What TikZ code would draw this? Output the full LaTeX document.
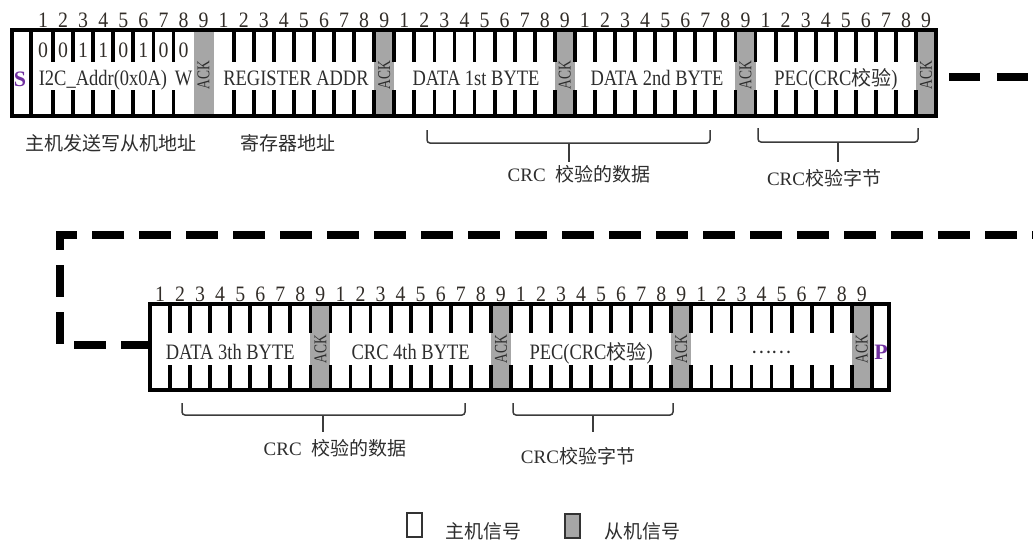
\documentclass[tikz,border=0pt]{standalone}
\usepackage{fontspec}
\setmainfont{Liberation Serif}
\newfontfamily\cjk{Noto Sans CJK SC}
\newfontfamily\ackfont[FakeStretch=0.75]{Liberation Serif}
\newfontfamily\condfont[FakeStretch=0.84]{Liberation Serif}
\newfontfamily\numfont[FakeStretch=0.9]{Liberation Serif}
\definecolor{ackgray}{RGB}{166,166,166}
\definecolor{sigcol}{RGB}{112,48,160}
\definecolor{numcol}{RGB}{50,45,40}
\definecolor{txtcol}{RGB}{45,45,45}
\definecolor{bracecol}{RGB}{60,60,60}
\begin{document}
\begin{tikzpicture}[x=1pt,y=-1pt,
  frame/.style={line width=4pt},
  tick/.style={line width=3.8pt},
  numlbl/.style={anchor=base, inner sep=0pt, font=\numfont\fontsize{22}{22}\selectfont, text=numcol},
  fieldlbl/.style={anchor=base, inner sep=0pt, font=\condfont\fontsize{22}{22}\selectfont, text=txtcol},
  acklbl/.style={rotate=90, inner sep=0pt, font=\ackfont\fontsize{18}{18}\selectfont, text=txtcol},
  siglbl/.style={anchor=base, inner sep=0pt, font=\bfseries\fontsize{22}{22}\selectfont, text=sigcol},
  cjklbl/.style={inner sep=0pt, font=\cjk\fontsize{19}{19}\selectfont, text=txtcol},
  brace/.style={line width=1.5pt, draw=bracecol, rounded corners=3pt},
  stem/.style={line width=2pt, draw=bracecol},
  dashline/.style={line width=8pt, dash pattern=on 31pt off 17pt},
  dashlineb/.style={line width=8pt, dash pattern=on 32pt off 15pt},
  legbox/.style={line width=1.3pt, draw=black!80},
]
\useasboundingbox (0,0) rectangle (1033,544);
\clip (0,0) rectangle (1033,544);

% ================= Row 1 =================
\def\xa{33}
\def\wa{20.07}
\foreach \i in {8,17,26,35,44}
  \fill[ackgray] ({\xa+\i*\wa},28) rectangle ({\xa+(\i+1)*\wa},118);
\foreach \j in {1,...,44}{
  \ifnum\j=8 \else\ifnum\j=9 \else
    \draw[tick] ({\xa+\j*\wa},28) -- ({\xa+\j*\wa},62);
    \draw[tick] ({\xa+\j*\wa},90) -- ({\xa+\j*\wa},118);
  \fi\fi
}
\draw[frame] (12,30) rectangle (936,116);
\draw[frame] (31,28) -- (31,118);
\foreach \i in {0,...,44}{
  \pgfmathtruncatemacro\n{mod(\i,9)+1}
  \node[numlbl] (na\i) at ({\xa+(\i+0.5)*\wa},27) {\n};
}
\foreach \v [count=\c from 0] in {0,0,1,1,0,1,0,0}
  \node[numlbl] (va\c) at ({\xa+(\c+0.5)*\wa},57) {\v};
\node[siglbl] (S) at (20,86) {S};
\node[fieldlbl] (f1) at (103,85) {I2C\_Addr(0x0A)};
\node[fieldlbl] (f1w) at ({\xa+7.5*\wa},85) {W};
\node[fieldlbl] (f2) at (296,85) {REGISTER ADDR};
\node[fieldlbl] (f3) at (476,85) {DATA 1st BYTE};
\node[fieldlbl] (f4) at (657,85) {DATA 2nd BYTE};
\node[fieldlbl] (f5) at (836,85) {PEC(CRC{\cjk\fontsize{20}{20}\selectfont 校验})};
\foreach \i [count=\k] in {8,17,26,35,44}
  \node[acklbl] (acka\k) at ({\xa+(\i+0.5)*\wa},75) {ACK};

% labels under row 1
\node[cjklbl] (l1) at (111,143) {主机发送写从机地址};
\node[cjklbl] (l2) at (288,143) {寄存器地址};
\draw[brace] (427,130) -- (427,143) -- (710,143) -- (710,130);
\draw[stem] (569,143) -- (569,162);
\node[cjklbl] (l3) at (579,174) {\rmfamily CRC\ \ \cjk 校验的数据};
\draw[brace] (758,128) -- (758,142) -- (918,142) -- (918,128);
\draw[stem] (838,142) -- (838,162);
\node[cjklbl] (l4) at (824,178) {\rmfamily CRC\cjk 校验字节};

% ================= connector =================
\coordinate (r1e) at (938,77);
\coordinate (rc1) at (1050,77);
\coordinate (rc2) at (1050,235);
\coordinate (lc1) at (60,235);
\coordinate (lc2) at (60,345);
\coordinate (r2s) at (148,345);
\draw[dashline, dash phase=37pt] (r1e) -- (rc1);
\draw[dashlineb, dash phase=14pt] (rc2) -- (lc1) -- (lc2) -- (r2s);

% ================= Row 2 =================
\def\xb{150}
\def\wb{20.05}
\foreach \i in {8,17,26,35}
  \fill[ackgray] ({\xb+\i*\wb},302) rectangle ({\xb+(\i+1)*\wb},392);
\foreach \j in {1,...,35}{
  \draw[tick] ({\xb+\j*\wb},302) -- ({\xb+\j*\wb},333);
  \draw[tick] ({\xb+\j*\wb},365) -- ({\xb+\j*\wb},392);
}
\draw[frame] (150,304) rectangle (889,390);
\draw[frame] ({\xb+36*\wb},302) -- ({\xb+36*\wb},392);
\foreach \i in {0,...,35}{
  \pgfmathtruncatemacro\n{mod(\i,9)+1}
  \node[numlbl] (nb\i) at ({\xb+(\i+0.5)*\wb},301) {\n};
}
\node[siglbl] (P) at (881,359) {P};
\node[fieldlbl] (g1) at ({\xb+4*\wb},359) {DATA 3th BYTE};
\node[fieldlbl] (g2) at ({\xb+13*\wb},359) {CRC 4th BYTE};
\node[fieldlbl] (g3) at ({\xb+22*\wb},359) {PEC(CRC{\cjk\fontsize{20}{20}\selectfont 校验})};
\node[cjklbl] (g4) at ({\xb+31*\wb},352) {……};
\foreach \i [count=\k] in {8,17,26,35}
  \node[acklbl] (ackb\k) at ({\xb+(\i+0.5)*\wb},349) {ACK};

% labels under row 2
\draw[brace] (182,403) -- (182,415) -- (465,415) -- (465,403);
\draw[stem] (323,415) -- (323,432);
\node[cjklbl] (m1) at (335,448) {\rmfamily CRC\ \ \cjk 校验的数据};
\draw[brace] (513,403) -- (513,415) -- (673,415) -- (673,403);
\draw[stem] (593,415) -- (593,432);
\node[cjklbl] (m2) at (578,456) {\rmfamily CRC\cjk 校验字节};

% ================= legend =================
\draw[legbox] (407,513) rectangle (422,537);
\node[cjklbl] (lg1) at (483,531) {主机信号};
\draw[legbox, fill=ackgray] (565,514) rectangle (580,538);
\node[cjklbl] (lg2) at (642,531) {从机信号};
\end{tikzpicture}
\end{document}
